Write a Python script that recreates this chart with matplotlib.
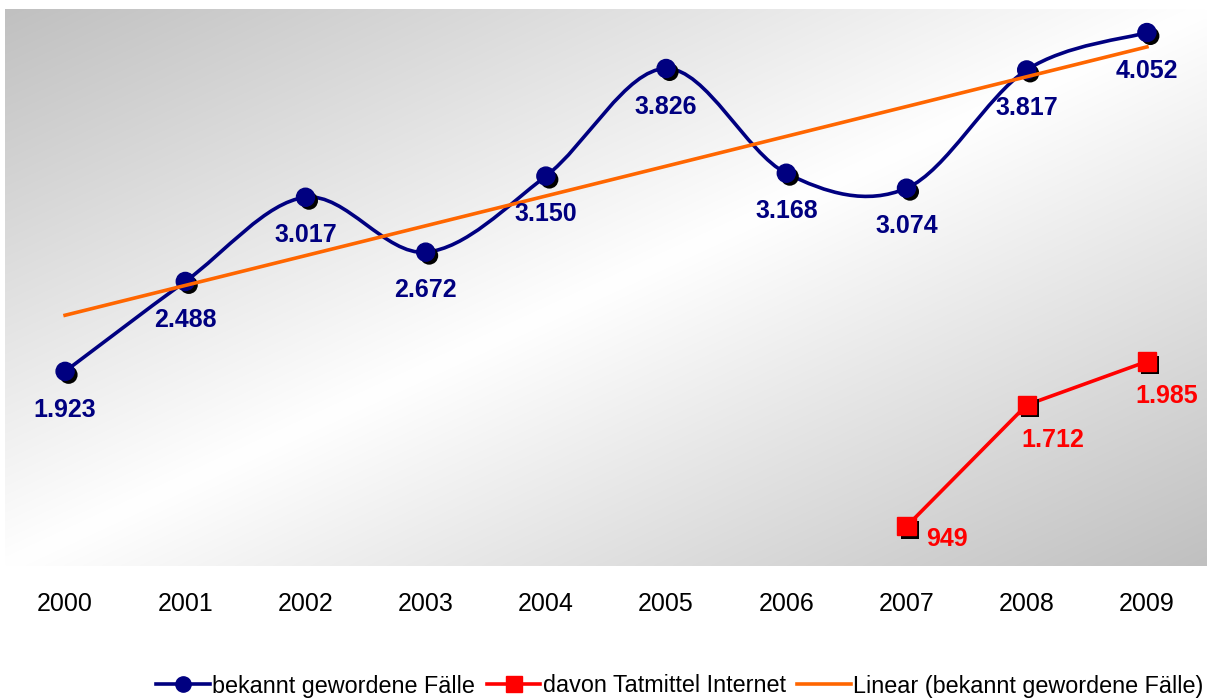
import numpy as np
import matplotlib
matplotlib.use('Agg')
import matplotlib.pyplot as plt
import matplotlib.patheffects as pe
from matplotlib.path import Path
from matplotlib.patches import PathPatch

plt.rcParams['font.family'] = ['Liberation Sans', 'DejaVu Sans']

years = ['2000', '2001', '2002', '2003', '2004', '2005', '2006', '2007', '2008', '2009']
faelle = [1923, 2488, 3017, 2672, 3150, 3826, 3168, 3074, 3817, 4052]
faelle_txt = ['1.923', '2.488', '3.017', '2.672', '3.150', '3.826', '3.168', '3.074', '3.817', '4.052']
internet_years = [7, 8, 9]
internet = [949, 1712, 1985]
internet_txt = ['949', '1.712', '1.985']

navy = '#000080'
red = '#ff0000'
orange = '#ff6600'

fig = plt.figure(figsize=(12.12, 7), dpi=100)
ax = fig.add_axes([5/1212, 134/700, 1202/1212, 557/700])
ax.set_xlim(-0.5, 9.5)
ax.set_ylim(700, 4200)

# diagonal grey-white-grey background
n = 400
fx, fy = np.meshgrid(np.linspace(0, 1, n), np.linspace(0, 1, n))
shade = 1 - np.abs(fy - fx) * (1 - 192/255)
ax.imshow(np.dstack([shade]*3), extent=[-0.5, 9.5, 700, 4200], origin='lower',
          aspect='auto', zorder=0, interpolation='bilinear')

# smoothed line (excel style bezier)
x = np.arange(len(faelle))
pts = np.column_stack([x, faelle]).astype(float)
verts = [pts[0]]
codes = [Path.MOVETO]
for i in range(len(pts) - 1):
    p0 = pts[max(i-1, 0)]
    p1 = pts[i]
    p2 = pts[i+1]
    p3 = pts[min(i+2, len(pts)-1)]
    verts += [p1 + (p2 - p0)/6, p2 - (p3 - p1)/6, p2]
    codes += [Path.CURVE4]*3
ax.add_patch(PathPatch(Path(verts, codes), fill=False, edgecolor=navy, lw=2.6, zorder=2))

shadow = [pe.SimplePatchShadow(offset=(2.5, -2.5), shadow_rgbFace='black', alpha=1.0), pe.Normal()]
ax.plot(x, faelle, 'o', ms=13, color=navy, zorder=3, path_effects=shadow)

# trend line
k, d = np.polyfit(x, faelle, 1)
ax.plot([x[0], x[-1]], [d, k*x[-1] + d], color=orange, lw=2.6, zorder=4)

ax.plot(internet_years, internet, '-', color=red, lw=2.6, zorder=2)
ax.plot(internet_years, internet, 's', ms=13, color=red, zorder=3, path_effects=shadow)

for xi, yi, t in zip(x, faelle, faelle_txt):
    ax.annotate(t, (xi, yi), xytext=(0, -27.5), textcoords='offset points',
                ha='center', va='center', fontsize=18, fontweight='bold', color=navy, zorder=5)

red_offsets = [(29, -9), (19, -25), (14, -24.5)]
for xi, yi, t, off in zip(internet_years, internet, internet_txt, red_offsets):
    ax.annotate(t, (xi, yi), xytext=off, textcoords='offset points',
                ha='center', va='center', fontsize=18, fontweight='bold', color=red, zorder=5)

ax.set_xticks(x)
ax.set_xticklabels(years, fontsize=18)
ax.tick_params(axis='x', length=0, pad=19)
ax.set_yticks([])
for s in ax.spines.values():
    s.set_visible(False)

h1, = ax.plot([], [], '-o', color=navy, lw=2.6, ms=11)
h2, = ax.plot([], [], '-s', color=red, lw=2.6, ms=11)
h3, = ax.plot([], [], '-', color=orange, lw=2.6)
fig.legend([h1, h2, h3], ['bekannt gewordene Fälle', 'davon Tatmittel Internet',
                          'Linear (bekannt gewordene Fälle)'],
           loc='center', bbox_to_anchor=(680/1212, 14/700), ncol=3, frameon=False,
           fontsize=16.8, handlelength=2.3, handletextpad=0.1, columnspacing=0.5)

fig.savefig('out.png', dpi=100)
